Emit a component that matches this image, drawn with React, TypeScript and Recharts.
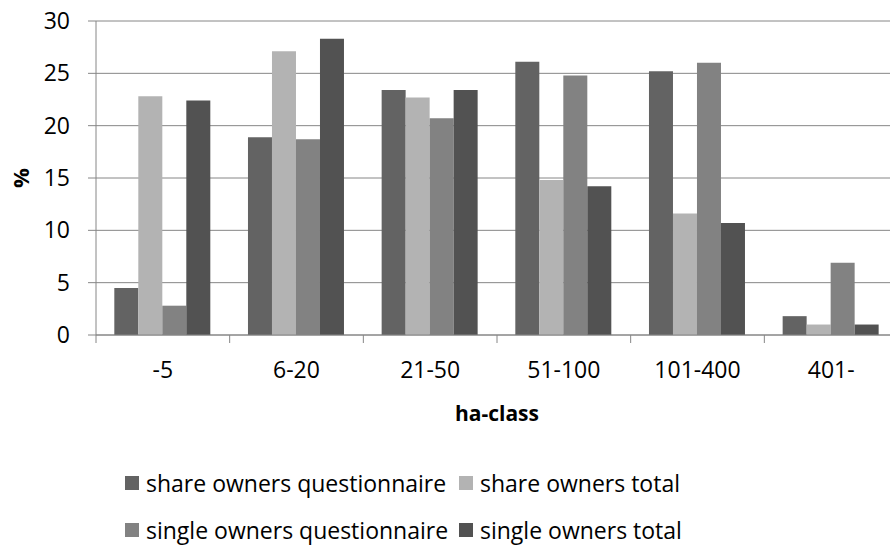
import React from 'react';
import { BarChart, Bar, XAxis, YAxis, CartesianGrid, Label } from 'recharts';

const categories = ['-5', '6-20', '21-50', '51-100', '101-400', '401-'];
const shareOwnersQuestionnaire = [4.5, 18.9, 23.4, 26.1, 25.2, 1.8];
const shareOwnersTotal = [22.8, 27.1, 22.7, 14.8, 11.6, 1.0];
const singleOwnersQuestionnaire = [2.8, 18.7, 20.7, 24.8, 26.0, 6.9];
const singleOwnersTotal = [22.4, 28.3, 23.4, 14.2, 10.7, 1.0];
const yTicks = [0, 5, 10, 15, 20, 25, 30];

const series = [
  { key: 'soq', name: 'share owners questionnaire', color: '#636363', values: shareOwnersQuestionnaire },
  { key: 'sot', name: 'share owners total', color: '#b3b3b3', values: shareOwnersTotal },
  { key: 'siq', name: 'single owners questionnaire', color: '#828282', values: singleOwnersQuestionnaire },
  { key: 'sit', name: 'single owners total', color: '#525252', values: singleOwnersTotal },
];

const data = categories.map((c, i) => {
  const row: Record<string, string | number> = { category: c };
  series.forEach((s) => {
    row[s.key] = s.values[i];
  });
  return row;
});

const FONT = '"Open Sans", sans-serif';
const GRID = '#868686';

const XTick = (props: any) => {
  const { x, y, payload } = props;
  const half = payload && typeof payload.offset === 'number' && payload.offset > 0 ? payload.offset : 66.8;
  const axisY = y - 8;
  return (
    <g>
      <line x1={x - half} x2={x - half} y1={axisY} y2={axisY + 8} stroke={GRID} strokeWidth={1} />
      <text x={x} y={y + 34.5} textAnchor="middle" fill="#000" fontSize={23} fontFamily={FONT}>
        {payload.value}
      </text>
    </g>
  );
};

const YLabel = (props: any) => {
  const vb = props.viewBox || { x: 0, y: 21, width: 96, height: 314 };
  const cx = vb.x + 20;
  const cy = vb.y + vb.height / 2;
  return (
    <text
      x={cx}
      y={cy}
      transform={`rotate(-90 ${cx} ${cy})`}
      textAnchor="middle"
      dominantBaseline="central"
      fontSize={22}
      fontWeight="bold"
      fontFamily={FONT}
      fill="#000"
    >
      %
    </text>
  );
};

const XLabel = (props: any) => {
  const vb = props.viewBox || { x: 96, y: 335, width: 802, height: 60 };
  const cx = vb.x + vb.width / 2;
  return (
    <text x={cx} y={421} textAnchor="middle" fontSize={21} fontWeight="bold" fontFamily={FONT} fill="#000">
      ha-class
    </text>
  );
};

const legendRows = [
  [series[0], series[1]],
  [series[2], series[3]],
];
const legendColX = [125, 459];
const legendRowY = [483, 530];

export default function App() {
  return (
    <div
      style={{
        position: 'fixed',
        left: 0,
        top: 0,
        width: 890,
        height: 545,
        overflow: 'hidden',
        background: '#fff',
        fontFamily: FONT,
      }}
    >
      <BarChart
        width={900}
        height={545}
        data={data}
        margin={{ top: 21, right: 2, left: 0, bottom: 150 }}
        barCategoryGap="13.7%"
        barGap={0}
      >
        <CartesianGrid vertical={false} stroke={GRID} strokeWidth={1} />
        <XAxis
          dataKey="category"
          height={60}
          stroke={GRID}
          tickLine={false}
          tickSize={8}
          tickMargin={0}
          tick={<XTick />}
          interval={0}
        >
          <Label content={<XLabel />} />
        </XAxis>
        <YAxis
          width={96}
          domain={[0, 30]}
          ticks={yTicks}
          interval={0}
          stroke={GRID}
          tickSize={8}
          tickMargin={18}
          tickLine={{ stroke: GRID }}
          tick={{ fill: '#000', fontSize: 23, fontFamily: FONT }}
        >
          <Label content={<YLabel />} />
        </YAxis>
        {series.map((s) => (
          <Bar key={s.key} dataKey={s.key} name={s.name} fill={s.color} isAnimationActive={false} />
        ))}
      </BarChart>
      {legendRows.map((row, ri) =>
        row.map((s, ci) => (
          <div
            key={s.key}
            style={{
              position: 'absolute',
              left: legendColX[ci],
              top: legendRowY[ri] - 12,
              height: 24,
              display: 'flex',
              alignItems: 'center',
              whiteSpace: 'nowrap',
              fontSize: 23,
              lineHeight: 1,
              fontFamily: FONT,
              color: '#000',
            }}
          >
            <span style={{ display: 'inline-block', width: 14, height: 14, background: s.color, marginRight: 7 }} />
            <span style={{ lineHeight: 1 }}>{s.name}</span>
          </div>
        ))
      )}
    </div>
  );
}
